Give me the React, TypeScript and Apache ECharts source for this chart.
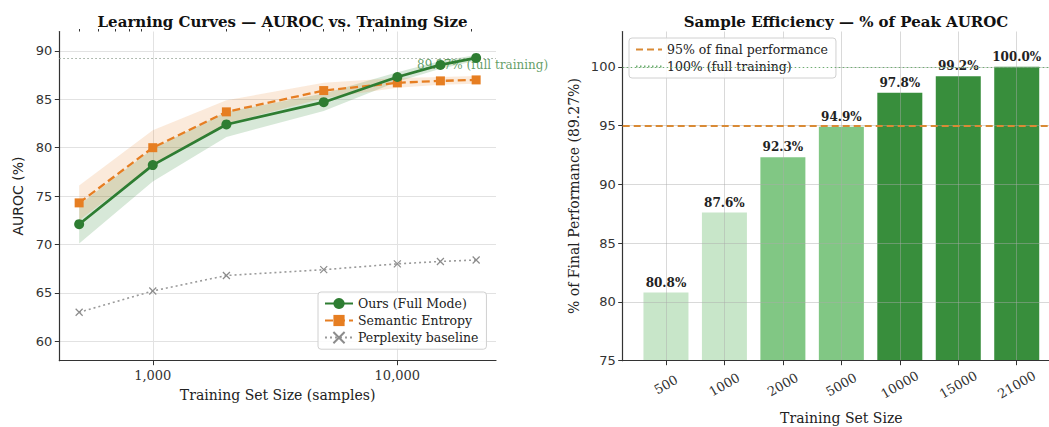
import React, { useEffect, useRef } from "react";
import * as echarts from "echarts";

// Training-set sizes shared by both panels
const SIZES = [500, 1000, 2000, 5000, 10000, 15000, 21000];

// Learning curves (AUROC, %)
const OURS = [72.1, 78.2, 82.4, 84.7, 87.3, 88.55, 89.27];
const OURS_SPREAD = [2.0, 1.7, 1.3, 0.9, 0.5, 0.4, 0.3];
const SEMANTIC = [74.3, 80.0, 83.7, 85.9, 86.7, 86.9, 87.0];
const SEMANTIC_SPREAD = [1.8, 1.8, 1.2, 0.8, 0.5, 0.4, 0.4];
const PERPLEXITY = [63.0, 65.2, 66.8, 67.4, 68.0, 68.25, 68.4];
const PEAK_AUROC = 89.27;

// Sample efficiency (% of final AUROC)
const PCT_OF_PEAK = [80.8, 87.6, 92.3, 94.9, 97.8, 99.2, 100.0];
const THRESHOLD_95 = 95;
const THRESHOLD_100 = 100;

// Axis ticks
const LEFT_Y_TICKS = [60, 65, 70, 75, 80, 85, 90];
const RIGHT_Y_TICKS = [75, 80, 85, 90, 95, 100];
const LOG_MAJOR = [1000, 10000];
const LOG_MINOR = [500, 600, 700, 800, 900, 2000, 3000, 4000, 5000, 6000, 7000, 8000, 9000, 20000];

const SERIF = "DejaVu Serif";
const SANS = "DejaVu Sans";
const GREEN = "#2e7d32";
const ORANGE = "#e67e22";
const GRAY = "#9a9a9a";
const AXIS = "#333333";
const LINE_95 = "#d98a35";
const LINE_100 = "#6fae72";

const lg = (v: number) => Math.log10(v);
const lo = lg(SIZES[0]);
const hi = lg(SIZES[SIZES.length - 1]);
const pad = 0.05 * (hi - lo);

const barColor = (v: number) => (v >= 95 ? "#388e3c" : v >= 90 ? "#81c784" : "#c8e6c9");

function band(name: string, mid: number[], spread: number[], fill: string) {
  return {
    type: "custom",
    name,
    xAxisIndex: 0,
    yAxisIndex: 0,
    silent: true,
    z: 1,
    data: SIZES.map((s, i) => [lg(s), mid[i] - spread[i], mid[i] + spread[i]]),
    encode: { x: 0, y: [1, 2] },
    renderItem: (params: any, api: any) => {
      if (params.dataIndex !== 0) return null;
      const top = SIZES.map((s, i) => api.coord([lg(s), mid[i] + spread[i]]));
      const bottom = SIZES.map((s, i) => api.coord([lg(s), mid[i] - spread[i]])).reverse();
      return { type: "polygon", shape: { points: top.concat(bottom) }, style: { fill } };
    },
  };
}

export default function App() {
  const ref = useRef<HTMLDivElement>(null);

  useEffect(() => {
    if (!ref.current) return;
    const chart = echarts.init(ref.current, null, { renderer: "svg" });

    const tickLabel = { fontFamily: SANS, fontSize: 13, color: "#333" };
    const axisLine = { show: true, onZero: false, lineStyle: { color: AXIS, width: 1.2 } };
    const legendBox = {
      orient: "vertical",
      padding: [5, 8, 5, 6],
      itemGap: 4,
      itemHeight: 14,
      backgroundColor: "rgba(255,255,255,0.85)",
      borderColor: "#d0d0d0",
      borderWidth: 1,
      borderRadius: 3,
      textStyle: { fontFamily: SERIF, fontSize: 12.5, color: "#222" },
    };

    const option: any = {
      animation: false,
      backgroundColor: "#ffffff",
      title: [
        {
          text: "Learning Curves — AUROC vs. Training Size",
          left: 277.6,
          top: 9,
          textAlign: "center",
          textStyle: { fontFamily: SERIF, fontWeight: "bold", fontSize: 15, color: "#111" },
        },
        {
          text: "Sample Efficiency — % of Peak AUROC",
          left: 841,
          top: 9,
          textAlign: "center",
          textStyle: { fontFamily: SERIF, fontWeight: "bold", fontSize: 15, color: "#111" },
        },
      ],
      legend: [
        {
          ...legendBox,
          data: ["Ours (Full Mode)", "Semantic Entropy", "Perplexity baseline"],
          left: 318,
          top: 292,
          itemWidth: 28,
        },
        {
          ...legendBox,
          data: [
            { name: "95% of final performance", itemStyle: { opacity: 0 } },
            { name: "100% (full training)", itemStyle: { opacity: 0 } },
          ],
          left: 629,
          top: 38,
          itemWidth: 26,
        },
      ],
      grid: [
        { left: 59.3, top: 31.5, width: 436.7, height: 329.2, outerBoundsMode: "none", containLabel: false },
        { left: 622.7, top: 31.5, width: 437.3, height: 329.2, outerBoundsMode: "none", containLabel: false },
      ],
      xAxis: [
        {
          type: "value",
          gridIndex: 0,
          min: lo - pad,
          max: hi + pad,
          name: "Training Set Size (samples)",
          nameLocation: "middle",
          nameGap: 27,
          nameTextStyle: { fontFamily: SERIF, fontSize: 14, color: "#222" },
          axisLine,
          axisTick: { show: true, length: 4.5, customValues: LOG_MAJOR.map(lg), lineStyle: { color: AXIS } },
          axisLabel: {
            customValues: LOG_MAJOR.map(lg),
            formatter: (v: number) => Math.round(Math.pow(10, v)).toLocaleString("en-US"),
            fontFamily: SERIF,
            fontSize: 13,
            color: "#333",
            margin: 8,
          },
          splitLine: { show: true, lineStyle: { color: "#e2e2e2", width: 1 } },
        },
        {
          type: "value",
          gridIndex: 0,
          min: lo - pad,
          max: hi + pad,
          axisLine: { show: false },
          axisTick: { show: true, length: 2.5, customValues: LOG_MINOR.map(lg), lineStyle: { color: AXIS } },
          axisLabel: { show: false },
          splitLine: { show: false },
        },
        {
          type: "value",
          gridIndex: 1,
          min: -0.74,
          max: 6.74,
          z: 3,
          name: "Training Set Size",
          nameLocation: "middle",
          nameGap: 50,
          nameTextStyle: { fontFamily: SERIF, fontSize: 14, color: "#222" },
          axisLine,
          axisTick: { show: true, length: 4.5, customValues: SIZES.map((_, i) => i), lineStyle: { color: AXIS } },
          axisLabel: {
            customValues: SIZES.map((_, i) => i),
            formatter: (v: number) => String(SIZES[Math.round(v)]),
            rotate: 30,
            align: "center",
            verticalAlign: "middle",
            fontFamily: SERIF,
            fontSize: 13,
            color: "#333",
            margin: 24,
          },
          splitLine: { show: true, lineStyle: { color: "rgba(170,170,170,0.45)", width: 1 } },
        },
      ],
      yAxis: [
        {
          type: "value",
          gridIndex: 0,
          min: 58,
          max: 92,
          name: "AUROC (%)",
          nameLocation: "middle",
          nameGap: 34,
          nameTextStyle: { fontFamily: SANS, fontSize: 14, color: "#222" },
          axisLine,
          axisTick: { show: true, length: 4.5, customValues: LEFT_Y_TICKS, lineStyle: { color: AXIS } },
          axisLabel: { ...tickLabel, customValues: LEFT_Y_TICKS, margin: 7 },
          splitLine: { show: true, lineStyle: { color: "#e2e2e2", width: 1 } },
        },
        {
          type: "value",
          gridIndex: 1,
          min: 75,
          max: 103,
          z: 3,
          name: "% of Final Performance (89.27%)",
          nameLocation: "middle",
          nameGap: 42,
          nameTextStyle: { fontFamily: SERIF, fontSize: 14, color: "#222" },
          axisLine,
          axisTick: { show: true, length: 4.5, customValues: RIGHT_Y_TICKS, lineStyle: { color: AXIS } },
          axisLabel: { ...tickLabel, customValues: RIGHT_Y_TICKS, margin: 7 },
          splitLine: { show: true, lineStyle: { color: "rgba(170,170,170,0.45)", width: 1 } },
        },
      ],
      graphic: [
        {
          type: "text",
          left: 417,
          top: 59,
          z: 1,
          silent: true,
          style: {
            text: "89.27% (full training)",
            font: `12px "${SERIF}"`,
            fill: "rgba(46,125,50,0.75)",
          },
        },
      ],
      series: [
        band("ours-band", OURS, OURS_SPREAD, "rgba(56,142,60,0.2)"),
        band("semantic-band", SEMANTIC, SEMANTIC_SPREAD, "rgba(230,126,34,0.16)"),
        {
          type: "line",
          name: "Perplexity baseline",
          xAxisIndex: 0,
          yAxisIndex: 0,
          data: SIZES.map((s, i) => [lg(s), PERPLEXITY[i]]),
          symbol: "path://M0,0L10,10M10,0L0,10",
          symbolSize: 7,
          lineStyle: { color: GRAY, width: 1.6, type: [2, 3] },
          itemStyle: { color: "rgba(0,0,0,0)", borderColor: "#8c8c8c", borderWidth: 1.2 },
          z: 3,
          silent: true,
        },
        {
          type: "line",
          name: "Semantic Entropy",
          xAxisIndex: 0,
          yAxisIndex: 0,
          data: SIZES.map((s, i) => [lg(s), SEMANTIC[i]]),
          symbol: "rect",
          symbolSize: 9,
          lineStyle: { color: ORANGE, width: 2.3, type: [8, 4] },
          itemStyle: { color: ORANGE, borderWidth: 0 },
          z: 4,
          silent: true,
        },
        {
          type: "line",
          name: "Ours (Full Mode)",
          xAxisIndex: 0,
          yAxisIndex: 0,
          data: SIZES.map((s, i) => [lg(s), OURS[i]]),
          symbol: "circle",
          symbolSize: 10,
          lineStyle: { color: GREEN, width: 2.7 },
          itemStyle: { color: GREEN, borderWidth: 0 },
          z: 5,
          silent: true,
          markLine: {
            silent: true,
            symbol: "none",
            label: { show: false },
            lineStyle: { color: "#9aa89b", width: 1, type: [1.5, 2.5] },
            data: [{ yAxis: PEAK_AUROC }],
          },
        },
        {
          type: "bar",
          name: "efficiency",
          xAxisIndex: 2,
          yAxisIndex: 1,
          barWidth: 45,
          z: 2,
          silent: true,
          data: PCT_OF_PEAK.map((v, i) => ({ value: [i, v], itemStyle: { color: barColor(v) } })),
          label: {
            show: true,
            position: "top",
            distance: 4,
            formatter: (p: any) => `${p.value[1].toFixed(1)}%`,
            fontFamily: SERIF,
            fontWeight: "bold",
            fontSize: 12,
            color: "#222",
          },
        },
        {
          type: "line",
          name: "95% of final performance",
          xAxisIndex: 2,
          yAxisIndex: 1,
          data: [],
          symbol: "none",
          lineStyle: { color: LINE_95, width: 2, type: [7, 4] },
          itemStyle: { color: LINE_95 },
          markLine: {
            silent: true,
            symbol: "none",
            label: { show: false },
            z: 5,
            lineStyle: { color: LINE_95, width: 2, type: [7, 4] },
            data: [{ yAxis: THRESHOLD_95 }],
          },
        },
        {
          type: "line",
          name: "100% (full training)",
          xAxisIndex: 2,
          yAxisIndex: 1,
          data: [],
          symbol: "none",
          lineStyle: { color: LINE_100, width: 1.2, type: [1.5, 2.5] },
          itemStyle: { color: LINE_100 },
          markLine: {
            silent: true,
            symbol: "none",
            label: { show: false },
            z: 5,
            lineStyle: { color: LINE_100, width: 1.2, type: [1.5, 2.5] },
            data: [{ yAxis: THRESHOLD_100 }],
          },
        },
      ],
    };

    chart.setOption(option);
    return () => chart.dispose();
  }, []);

  return (
    <div
      ref={ref}
      style={{ position: "fixed", left: 0, top: 0, width: 1049, height: 427, background: "#fff" }}
    />
  );
}
